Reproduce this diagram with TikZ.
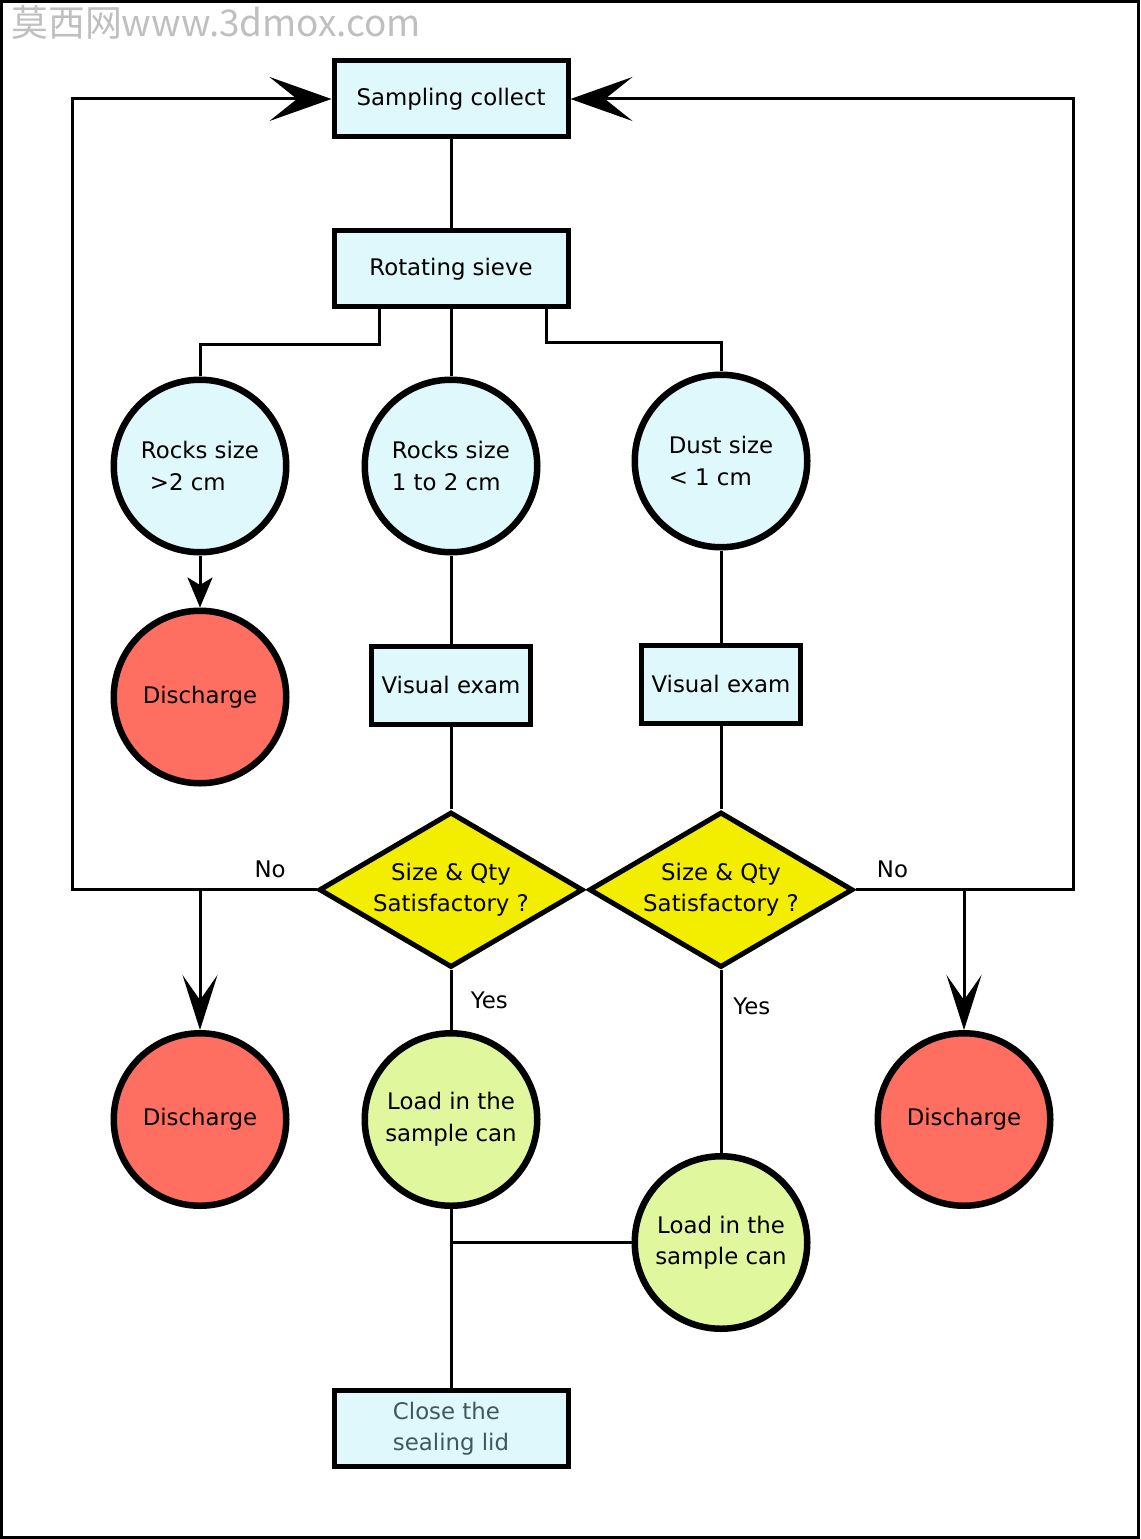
\documentclass[tikz,border=0pt]{standalone}
\usepackage{fontspec}
\setmainfont{DejaVu Sans}
\newfontfamily\cjkfont{Noto Sans CJK SC}
\usepackage{tikz}
\usetikzlibrary{arrows.meta,positioning,calc,shapes.geometric}
\definecolor{boxcyan}{RGB}{223,248,252}
\definecolor{dischred}{RGB}{255,111,97}
\definecolor{loadgreen}{RGB}{225,247,157}
\definecolor{askyellow}{RGB}{243,238,0}
\definecolor{lidtext}{RGB}{63,90,90}

\begin{document}
\begin{tikzpicture}[
  font=\fontsize{13}{18}\selectfont,
  box/.style={draw, line width=0.1cm, fill=boxcyan, minimum width=4.68cm, minimum height=1.52cm, align=center, inner sep=0pt},
  vbox/.style={box, minimum width=3.18cm, minimum height=1.56cm},
  disc/.style={circle, draw, line width=0.13cm, minimum size=3.45cm, inner sep=0pt, align=left, fill=boxcyan},
  drop/.style={disc, fill=dischred, align=center},
  load/.style={disc, fill=loadgreen, align=center},
  ask/.style={diamond, draw, line width=0.1cm, fill=askyellow, aspect=1.7, minimum width=5.28cm, minimum height=3.11cm, inner sep=0pt, align=center},
  line/.style={line width=0.06cm},
  lab/.style={font=\fontsize{13}{16}\selectfont},
  arrow/.style={line, -{Stealth[length=0.6cm, width=0.5cm, inset=0.15cm]}},
  bigarrow/.style={line, -{Stealth[length=1.1cm, width=0.7cm, inset=0.5cm]}},
  hugearrow/.style={line, -{Stealth[length=1.24cm, width=0.88cm, inset=0.55cm]}}
]
\useasboundingbox (0,0) rectangle (22.8,-30.78);
\draw[line] (0.03,-0.03) rectangle (22.77,-30.75);
\node[anchor=west, text=gray!50, font=\cjkfont\fontsize{21}{21}\selectfont] (mark) at (0.1,-0.46) {莫西网www.3dmox.com};

\node[box] (S) at (9.02,-1.98) {Sampling collect};
\node[box, below=1.78cm of S] (R) {Rotating sieve};
\node[disc, below=1.34cm of R] (C2) {Rocks size\\1 to 2 cm};
\node[disc, left=1.44cm of C2] (C1) {Rocks size\\\hspace{0.18cm}>2 cm};
\node[disc, right=1.82cm of C2, yshift=0.1cm] (C3) {Dust size\\< 1 cm};
\node[drop, below=1.04cm of C1] (D1) {Discharge};
\node[vbox, below=1.76cm of C2] (V1) {Visual exam};
\node[vbox, below=1.84cm of C3] (V2) {Visual exam};
\node[ask, below=1.66cm of V1] (Q1) {Size \& Qty\\Satisfactory ?};
\node[ask, below=1.68cm of V2] (Q2) {Size \& Qty\\Satisfactory ?};
\node[load, below=1.2cm of Q1] (L1) {Load in the\\sample can};
\node[drop, left=1.44cm of L1] (D2) {Discharge};
\node[drop, right=6.68cm of L1] (D3) {Discharge};
\node[load, below=3.66cm of Q2] (L2) {Load in the\\sample can};
\node[box, below=3.58cm of L1, text=lidtext, align=left] (E) {Close the\\sealing lid};
\coordinate (lft) at (1.44,0);
\coordinate (rgt) at (21.46,0);

\draw[line] (S) -- (R);
\draw[line] ($(R.south west)!0.2!(R.south east)$) -- ++(0,-0.7) -| (C1.north);
\draw[line] (R) -- (C2);
\draw[line] ($(R.south west)!0.9!(R.south east)$) -- ++(0,-0.66) -| (C3.north);
\draw[arrow] (C1) -- (D1);
\draw[line] (C2) -- (V1);
\draw[line] (C3) -- (V2);
\draw[line] (V1) -- (Q1);
\draw[line] (V2) -- (Q2);
\draw[hugearrow] (Q1.west) -- node[lab, pos=0.19, above, yshift=0.1cm] (no1) {No} (Q1.west -| lft) |- (S.west);
\draw[bigarrow] (Q1.west -| D2) -- (D2);
\draw[line] (Q1) -- node[lab, right, xshift=0.25cm] (yes1) {Yes} (L1);
\draw[hugearrow] (Q2.east) -- node[lab, pos=0.17, above, yshift=0.1cm] (no2) {No} (Q2.east -| rgt) |- (S.east);
\draw[bigarrow] (Q2.east -| D3) -- (D3);
\draw[line] (Q2) -- node[lab, pos=0.2, right, xshift=0.1cm] (yes2) {Yes} (L2);
\draw[line] (L1) -- (E);
\draw[line] (L2.west) -- (L2.west -| L1);
\end{tikzpicture}
\end{document}
